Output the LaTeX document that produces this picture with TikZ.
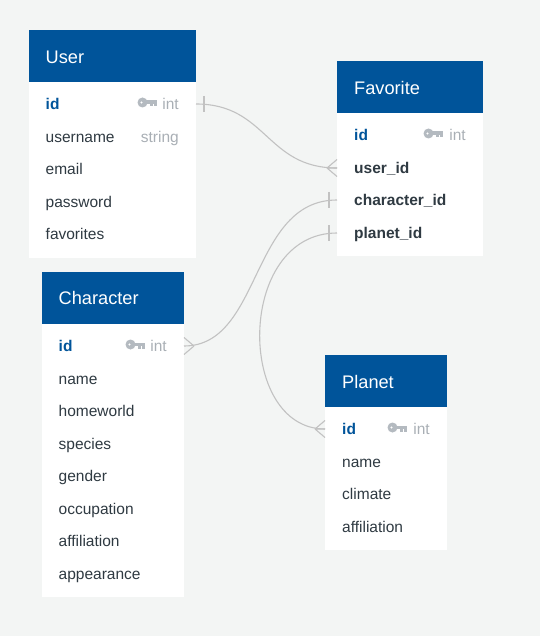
\documentclass[tikz,border=0pt]{standalone}
\usepackage{fontspec}
\setmainfont{Liberation Sans}
\definecolor{bgc}{HTML}{F3F5F4}
\definecolor{headc}{HTML}{00549A}
\definecolor{txtc}{HTML}{2F3A42}
\definecolor{typec}{HTML}{A9AFB5}
\definecolor{keyc}{HTML}{B4BAC0}
\definecolor{linkc}{HTML}{C2C2C2}
\newcommand{\fs}{\fontsize{15.5}{17}\selectfont}
\tikzset{
  x=1pt,y=-1pt,
  card/.style={fill=white,draw=none,anchor=north west,inner sep=0,minimum width=#1},
  head/.style={fill=headc,draw=none,anchor=north west,inner sep=0,minimum width=#1,minimum height=52},
  title/.style={text=white,anchor=base west,inner sep=0,font=\fontsize{18.2}{20}\selectfont},
  pk/.style={text=headc,anchor=base west,inner sep=0,font=\fs\bfseries},
  fk/.style={text=txtc,anchor=base west,inner sep=0,font=\fs\bfseries},
  field/.style={text=txtc,anchor=base west,inner sep=0,font=\fs},
  ftype/.style={text=typec,anchor=base east,inner sep=0,font=\fs},
  link/.style={draw=linkc,line width=1.1pt},
  mark line/.style={draw=linkc,line width=1.1pt},
}
% #1,#2: left end of the bow, centre line of the key
\newcommand{\keyicon}[2]{%
  \fill[keyc,even odd rule] (#1+5,#2) circle (5) (#1+4,#2) circle (1.4);
  \fill[keyc] (#1+8,#2-2) rectangle (#1+19,#2+1.6);
  \fill[keyc] (#1+12.5,#2) rectangle (#1+15,#2+4);
  \fill[keyc] (#1+16,#2) rectangle (#1+19,#2+4);
}
\newcommand{\crow}[2]{% tip x, y; prongs go to the right
  \draw[mark line] (#1,#2) -- (#1+10,#2-8.5) (#1,#2) -- (#1+10,#2) (#1,#2) -- (#1+10,#2+8.5);
}
\begin{document}
\begin{tikzpicture}
\useasboundingbox (0,0) rectangle (540,636);
\fill[bgc] (0,0) rectangle (540,636);

% User
\node[card=167.5,minimum height=228] (user) at (28.5,30) {};
\node[head=167.5] (userh) at (28.5,30) {};
\node[title] (usert) at (45.5,63.5) {User};
\node[pk] (uid) at (45.5,109.5) {id};
\node[ftype] (uidt) at (179,109.5) {int};
\node[field] (uname) at (45.5,142.5) {username};
\node[ftype] (unamet) at (179,142.5) {string};
\node[field] (umail) at (45.5,174.5) {email};
\node[field] (upass) at (45.5,207.5) {password};
\node[field] (ufav) at (45.5,239.5) {favorites};
\keyicon{137.5}{102.5}

% Favorite
\node[card=146,minimum height=195] (fav) at (337,61) {};
\node[head=146] (favh) at (337,61) {};
\node[title] (favt) at (354,94.5) {Favorite};
\node[pk] (fid) at (354,140.5) {id};
\node[ftype] (fidt) at (466,140.5) {int};
\node[fk] (fuser) at (354,173.5) {user\_id};
\node[fk] (fchar) at (354,206) {character\_id};
\node[fk] (fplan) at (354,238.5) {planet\_id};
\keyicon{423.5}{133.5}

% Character
\node[card=142.5,minimum height=325] (chr) at (41.5,272) {};
\node[head=142.5] (chrh) at (41.5,272) {};
\node[title] (chrt) at (58.5,304) {Character};
\node[pk] (cid) at (58.5,351) {id};
\node[ftype] (cidt) at (167,351) {int};
\node[field] (cname) at (58.5,384) {name};
\node[field] (chome) at (58.5,416) {homeworld};
\node[field] (cspec) at (58.5,449) {species};
\node[field] (cgend) at (58.5,481) {gender};
\node[field] (cocc) at (58.5,514) {occupation};
\node[field] (caff) at (58.5,546) {affiliation};
\node[field] (capp) at (58.5,579) {appearance};
\keyicon{125.5}{344.5}

% Planet
\node[card=121.5,minimum height=195] (pla) at (325,355) {};
\node[head=121.5] (plah) at (325,355) {};
\node[title] (plat) at (342,388) {Planet};
\node[pk] (pid) at (342,434) {id};
\node[ftype] (pidt) at (430,434) {int};
\node[field] (pname) at (342,467) {name};
\node[field] (pclim) at (342,499) {climate};
\node[field] (paff) at (342,532) {affiliation};
\keyicon{387.5}{427.5}

% Connector ends
\coordinate (uE) at (196,104);
\coordinate (fU) at (337,168);
\coordinate (fC) at (337,200);
\coordinate (fP) at (337,233);
\coordinate (cE) at (184,346);
\coordinate (pW) at (325,429);

% Connectors
\draw[link] (uE) .. controls (267,104) and (266,168) .. (fU);
\draw[link] (cE) .. controls (262,346) and (250,200) .. (fC);
\draw[link] (fP) .. controls (236,233) and (236,429) .. (pW);

% Ends
\draw[mark line] (204,96) -- (204,112);
\draw[mark line] (329,192) -- (329,208);
\draw[mark line] (329,225) -- (329,241);
\crow{327}{168}
\draw[mark line] (194,346) -- (184,337.5) (194,346) -- (184,354.5);
\crow{315}{429}
\end{tikzpicture}
\end{document}
